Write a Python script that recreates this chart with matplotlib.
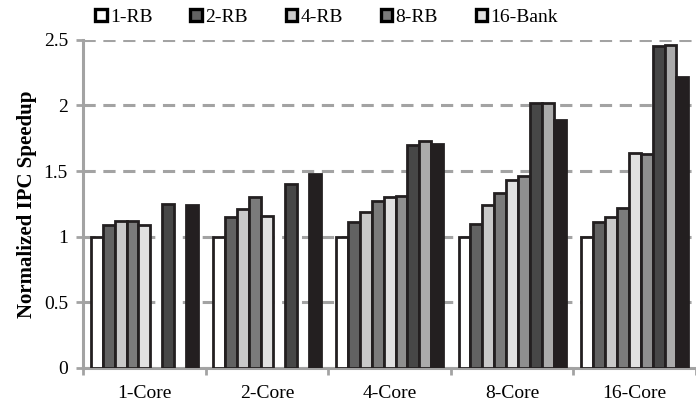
"""Normalized IPC speedup per core count, grouped bars for each row-buffer config."""
import numpy as np
import matplotlib
matplotlib.use("Agg")
import matplotlib.pyplot as plt
from matplotlib.patches import Patch

plt.rcParams.update({
    "font.family": "Liberation Serif",
    "font.size": 14,
})

cores = ["1-Core", "2-Core", "4-Core", "8-Core", "16-Core"]
legend_names = ["1-RB", "2-RB", "4-RB", "8-RB", "16-Bank"]

# one list per bar slot, value per core group (nan = not run)
nan = np.nan
s1 = [1.00, 1.00, 1.00, 1.00, 1.00]
s2 = [1.09, 1.15, 1.11, 1.10, 1.11]
s3 = [1.12, 1.21, 1.19, 1.24, 1.15]
s4 = [1.12, 1.30, 1.27, 1.33, 1.22]
s5 = [1.09, 1.16, 1.30, 1.43, 1.64]
s6 = [nan, nan, 1.31, 1.46, 1.63]
s7 = [1.25, 1.40, 1.70, 2.02, 2.45]
s8 = [nan, nan, 1.73, 2.02, 2.46]
s9 = [1.24, 1.48, 1.71, 1.89, 2.22]
series = [s1, s2, s3, s4, s5, s6, s7, s8, s9]

fills = ["#ffffff", "#626262", "#c9c9c9", "#7b7b7b", "#e1e1e1",
         "#8f8f8f", "#474747", "#ababab", "#231f20"]
edge = "#231f20"
grey = "#a3a3a3"

fig = plt.figure(figsize=(6.96, 4.07), dpi=100)
ax = fig.add_axes([0.1195, 0.096, 0.8805, 0.806])

x = np.arange(len(cores))
w = 0.0972
for k, vals in enumerate(series):
    ax.bar(x + (k - 4) * w, vals, width=w, color=fills[k],
           edgecolor=edge, linewidth=2.0, zorder=3)

ax.set_ylim(0, 2.5)
ax.set_yticks([0, 0.5, 1, 1.5, 2, 2.5])
ax.set_yticklabels(["0", "0.5", "1", "1.5", "2", "2.5"])
ax.set_xlim(-0.5, 4.445)
ax.set_xticks(x)
ax.set_xticklabels(cores)
ax.set_xticks(np.arange(-0.5, 5, 1), minor=True)
ax.tick_params(axis="x", which="major", length=0, pad=12)
ax.tick_params(axis="x", which="minor", length=5, width=2, color=grey)
ax.tick_params(axis="y", length=5, width=2, color=grey, pad=6)

ax.yaxis.grid(True, color=grey, linestyle=(0, (4, 2.5)), linewidth=2.2, zorder=0)
ax.set_axisbelow(True)
for side in ["top", "right"]:
    ax.spines[side].set_visible(False)
for side in ["left", "bottom"]:
    ax.spines[side].set_color(grey)
    ax.spines[side].set_linewidth(2.2)

ax.set_ylabel("Normalized IPC Speedup", fontweight="bold", fontsize=15, labelpad=5)

handles = [Patch(facecolor=fills[k], edgecolor="black", linewidth=2.4)
           for k in range(len(legend_names))]
fig.legend(handles, legend_names, loc="center left", bbox_to_anchor=(0.137, 0.958),
           ncol=5, frameon=False, handlelength=0.6, handleheight=0.6,
           handletextpad=0.15, columnspacing=1.95, fontsize=14, borderaxespad=0,
           borderpad=0)

fig.savefig("out.png", dpi=100)
